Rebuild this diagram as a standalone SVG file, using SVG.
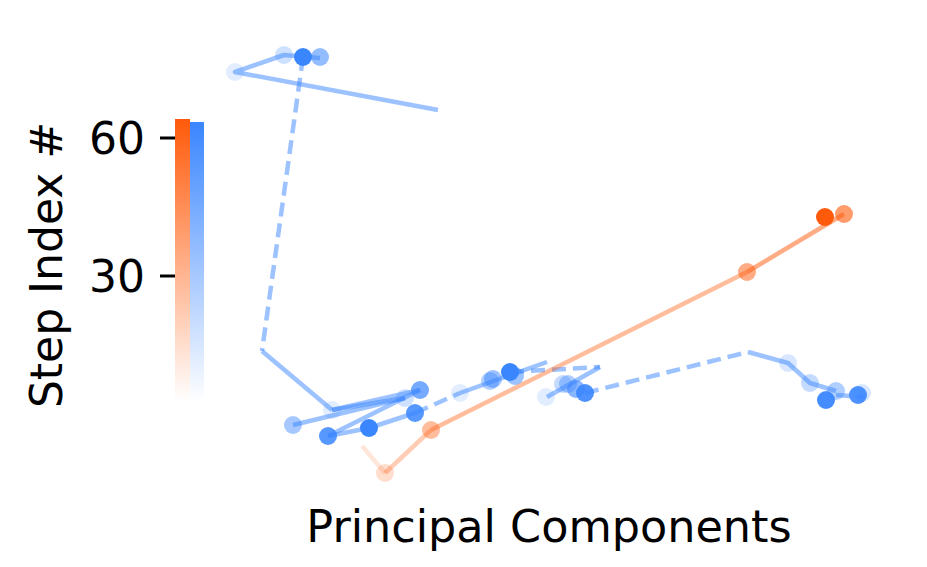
<svg xmlns="http://www.w3.org/2000/svg" width="927" height="567" viewBox="0 0 927 567">
<defs>
<linearGradient id="gO" x1="0" y1="0" x2="0" y2="1"><stop offset="0" stop-color="#ff5a0a"/><stop offset="1" stop-color="#ff5a0a" stop-opacity="0"/></linearGradient>
<linearGradient id="gB" x1="0" y1="0" x2="0" y2="1"><stop offset="0" stop-color="#3a86ff"/><stop offset="1" stop-color="#3a86ff" stop-opacity="0"/></linearGradient>
<style>
text{font-family:"DejaVu Sans",sans-serif;fill:#000}
.b{stroke:#3a86ff;stroke-opacity:.5;stroke-width:4.5;fill:none;stroke-linecap:butt;stroke-linejoin:round}
.d{stroke-dasharray:14,7}
.o{stroke:#ff5a0a;stroke-width:4.5;fill:none}
.pb{fill:#3a86ff}
.po{fill:#ff5a0a}
circle{r:9}
</style>
</defs>
<rect width="927" height="567" fill="#fff"/>
<g id="colorbar">
<rect x="175" y="119" width="15" height="283" fill="url(#gO)"/>
<rect x="190" y="122" width="14" height="280" fill="url(#gB)"/>
<line x1="160" y1="138" x2="175" y2="138" stroke="#000" stroke-width="3"/>
<line x1="160" y1="276" x2="175" y2="276" stroke="#000" stroke-width="3"/>
<text x="145" y="154" font-size="44" text-anchor="end">60</text>
<text x="145" y="292" font-size="44" text-anchor="end">30</text>
<text transform="translate(62,265) rotate(-90)" font-size="44" text-anchor="middle">Step Index #</text>
</g>
<g id="connectors">
<polyline class="b" points="438,110 235,72 284,55 320,58"/>
<line class="b d" x1="303" y1="57" x2="262" y2="351"/>
<line class="b" x1="262" y1="351" x2="332" y2="410"/>
<line class="b" x1="332" y1="410" x2="420" y2="390"/>
<line class="b" x1="332" y1="410" x2="405" y2="398"/>
<line class="b" x1="293" y1="425" x2="405" y2="398"/>
<line class="b" x1="328" y1="436" x2="420" y2="390"/>
<polyline class="b" points="328,436 369,428 415,413"/>
<line class="b d" x1="415" y1="413" x2="460" y2="393"/>
<line class="b" x1="460" y1="393" x2="547" y2="362"/>
<line class="b d" x1="510" y1="372" x2="600" y2="367"/>
<line class="b" x1="600" y1="367" x2="547" y2="397"/>
<line class="b d" x1="585" y1="393" x2="748" y2="352"/>
<polyline class="b" points="748,352 788,363 810,383 836,391"/>
<line class="b d" x1="836" y1="395" x2="864" y2="397"/>
<line class="o" stroke-opacity=".15" x1="362" y1="446" x2="385" y2="473"/>
<line class="o" stroke-opacity=".3" x1="385" y1="473" x2="431" y2="430"/>
<line class="o" stroke-opacity=".4" x1="431" y1="430" x2="747" y2="272"/>
<line class="o" stroke-opacity=".5" x1="747" y1="272" x2="844" y2="214"/>
</g>
<g id="points">
<circle class="pb" cx="235" cy="72" r="9" opacity=".15"/>
<circle class="pb" cx="284" cy="55" r="9" opacity=".25"/>
<circle class="pb" cx="320" cy="57" r="9" opacity=".55"/>
<circle class="pb" cx="303" cy="57" r="9"/>
<circle class="pb" cx="332" cy="410" r="9" opacity=".15"/>
<circle class="pb" cx="293" cy="425" r="9" opacity=".45"/>
<circle class="pb" cx="328" cy="436" r="9" opacity=".85"/>
<circle class="pb" cx="369" cy="428" r="9"/>
<circle class="pb" cx="415" cy="413" r="9" opacity=".85"/>
<circle class="pb" cx="420" cy="390" r="9" opacity=".7"/>
<circle class="pb" cx="405" cy="398" r="9" opacity=".25"/>
<circle class="pb" cx="460" cy="393" r="9" opacity=".15"/>
<circle class="pb" cx="490" cy="381" r="9" opacity=".4"/>
<circle class="pb" cx="493" cy="379" r="9" opacity=".5"/>
<circle class="pb" cx="515" cy="376" r="9" opacity=".5"/>
<circle class="pb" cx="510" cy="372" r="9"/>
<circle class="pb" cx="546" cy="397" r="9" opacity=".15"/>
<circle class="pb" cx="563" cy="384" r="9" opacity=".3"/>
<circle class="pb" cx="568" cy="384" r="9" opacity=".4"/>
<circle class="pb" cx="576" cy="389" r="9" opacity=".6"/>
<circle class="pb" cx="585" cy="393" r="9" opacity=".9"/>
<circle class="pb" cx="788" cy="363" r="9" opacity=".2"/>
<circle class="pb" cx="810" cy="383" r="9" opacity=".3"/>
<circle class="pb" cx="836" cy="391" r="9" opacity=".4"/>
<circle class="pb" cx="826" cy="400" r="9" opacity=".95"/>
<circle class="pb" cx="862" cy="393" r="9" opacity=".2"/>
<circle class="pb" cx="858" cy="395" r="9" opacity=".9"/>
<circle class="po" cx="385" cy="473" r="9" opacity=".2"/>
<circle class="po" cx="431" cy="430" r="9" opacity=".4"/>
<circle class="po" cx="747" cy="272" r="9" opacity=".5"/>
<circle class="po" cx="844" cy="214" r="9" opacity=".6"/>
<circle class="po" cx="825" cy="217" r="9"/>
</g>
<text x="549" y="542" font-size="44.5" text-anchor="middle">Principal Components</text>
</svg>
